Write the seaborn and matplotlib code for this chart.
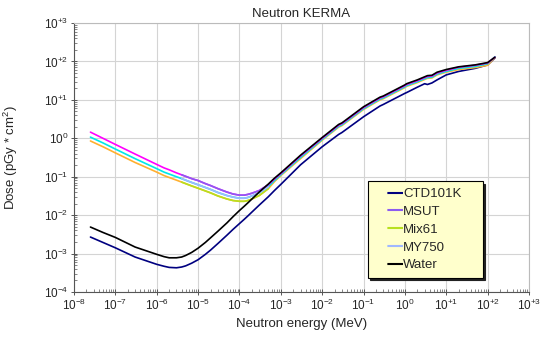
import numpy as np
import pandas as pd
import matplotlib
matplotlib.use('Agg')
import matplotlib.pyplot as plt
import matplotlib.ticker as mticker
from matplotlib.lines import Line2D
import seaborn as sns

energia = [2.5e-8, 5e-8, 1e-7, 3e-7, 1e-6, 1.5e-6, 2e-6, 3e-6, 4e-6, 5e-6, 7e-6, 1e-5,
           1.5e-5, 2e-5, 3e-5, 5e-5, 7e-5, 1e-4, 1.3e-4, 1.6e-4, 2e-4, 3e-4, 5e-4, 7e-4,
           1e-3, 3e-3, 1e-2, 2.5e-2, 3e-2, 1e-1, 2.5e-1, 3e-1,
           1.0, 1.1, 2.0, 3.0, 3.5, 4.5, 6.0, 10, 20, 50, 100, 150]

# Dose, stored as exponents (log10 of pGy*cm2)
exp_ctd101k = [-2.57, -2.71, -2.85, -3.09, -3.28, -3.33, -3.36, -3.37, -3.35, -3.32, -3.25, -3.16,
               -3.02, -2.91, -2.74, -2.52, -2.37, -2.22, -2.11, -2.02, -1.92, -1.74, -1.52, -1.36,
               -1.20, -0.69, -0.22, 0.10, 0.15, 0.56, 0.84, 0.88,
               1.17, 1.19, 1.33, 1.42, 1.40, 1.44, 1.52, 1.65, 1.74, 1.82, 1.91, 2.09]
exp_msut = [0.16, 0.00, -0.16, -0.41, -0.68, -0.77, -0.82, -0.90, -0.95, -0.99, -1.05, -1.10,
            -1.18, -1.23, -1.31, -1.40, -1.45, -1.48, -1.48, -1.46, -1.43, -1.36, -1.21, -1.06,
            -0.92, -0.46, 0.00, 0.34, 0.38, 0.80, 1.05, 1.08,
            1.37, 1.40, 1.50, 1.58, 1.61, 1.62, 1.70, 1.77, 1.85, 1.90, 1.96, 2.11]
exp_mix61 = [-0.07, -0.22, -0.38, -0.63, -0.88, -0.97, -1.02, -1.09, -1.14, -1.18, -1.24, -1.30,
             -1.37, -1.42, -1.50, -1.58, -1.62, -1.64, -1.64, -1.62, -1.58, -1.49, -1.31, -1.13,
             -0.97, -0.53, -0.05, 0.29, 0.33, 0.75, 1.00, 1.03,
             1.32, 1.35, 1.45, 1.53, 1.56, 1.57, 1.65, 1.72, 1.79, 1.84, 1.90, 2.10]
exp_my750 = [0.03, -0.12, -0.28, -0.53, -0.79, -0.88, -0.93, -1.00, -1.05, -1.09, -1.15, -1.21,
             -1.28, -1.33, -1.41, -1.49, -1.53, -1.56, -1.56, -1.54, -1.50, -1.42, -1.26, -1.10,
             -0.95, -0.50, -0.03, 0.31, 0.35, 0.77, 1.02, 1.05,
             1.34, 1.37, 1.47, 1.55, 1.58, 1.59, 1.67, 1.74, 1.82, 1.87, 1.94, 2.12]
exp_water = [-2.31, -2.45, -2.58, -2.83, -3.02, -3.08, -3.11, -3.11, -3.09, -3.05, -2.97, -2.86,
             -2.71, -2.59, -2.42, -2.20, -2.04, -1.88, -1.77, -1.68, -1.58, -1.40, -1.19, -1.04,
             -0.90, -0.44, 0.02, 0.36, 0.40, 0.82, 1.07, 1.10,
             1.39, 1.42, 1.52, 1.60, 1.63, 1.64, 1.72, 1.79, 1.86, 1.91, 1.97, 2.11]

materiais = ['CTD101K', 'MSUT', 'Mix61', 'MY750', 'Water']
expoentes = [exp_ctd101k, exp_msut, exp_mix61, exp_my750, exp_water]

# cores das curvas (trecho termico / rapido) e cores da legenda
cores_fortes = {'CTD101K': '#000080', 'MSUT': '#ff00ff', 'Mix61': '#ffb030',
                'MY750': '#00e8e8', 'Water': '#000000'}
cores_legenda = {'CTD101K': '#000080', 'MSUT': '#8c5cf0', 'Mix61': '#b8e01e',
                 'MY750': '#a0b8ff', 'Water': '#000000'}

linhas = []
for nome, ex in zip(materiais, expoentes):
    for e, v in zip(energia, ex):
        linhas.append({'Energia': e, 'Dose': 10.0 ** v, 'Material': nome})
df = pd.DataFrame(linhas)

sns.set_style('white')
plt.rcParams['font.family'] = ['Liberation Sans', 'DejaVu Sans']
plt.rcParams['lines.scale_dashes'] = False

fig = plt.figure(figsize=(5.5, 3.38), dpi=100)
ax = fig.add_axes([74 / 550, 46 / 338, 455 / 550, 269 / 338])

ordem = ['CTD101K', 'Mix61', 'MY750', 'MSUT', 'Water']
for nome in ordem:
    sub = df[df['Material'] == nome]
    sns.lineplot(data=sub, x='Energia', y='Dose', color=cores_fortes[nome], lw=1.2,
                 estimator=None, sort=False, ax=ax, legend=False)
    if nome in ('MSUT', 'Mix61', 'MY750'):
        meio = sub[(sub['Energia'] >= 4e-6) & (sub['Energia'] <= 5e-4)]
        sns.lineplot(data=meio, x='Energia', y='Dose', color=cores_legenda[nome], lw=1.2,
                     estimator=None, sort=False, ax=ax, legend=False)

ax.set_xscale('log')
ax.set_yscale('log')
ax.set_xlim(1e-8, 1e3)
ax.set_ylim(1e-4, 1e3)

def rotulo(v, pos):
    p = int(round(np.log10(v)))
    s = '+%d' % p if p > 0 else '%d' % p
    return r'10$^{\mathregular{%s}}$' % s

for eixo in (ax.xaxis, ax.yaxis):
    eixo.set_major_locator(mticker.LogLocator(base=10, numticks=30))
    eixo.set_minor_locator(mticker.LogLocator(base=10, subs=np.arange(2, 10), numticks=300))
    eixo.set_major_formatter(mticker.FuncFormatter(rotulo))
    eixo.set_minor_formatter(mticker.NullFormatter())

ax.tick_params(which='major', direction='inout', length=4, width=0.7, color='#555555',
               labelsize=8.5, pad=2, bottom=True, left=True)
ax.tick_params(which='minor', direction='in', length=2.5, width=0.5, color='#555555',
               bottom=True, left=True)
ax.grid(True, which='major', color='#d4d4d4', lw=0.8)
ax.set_axisbelow(True)
for lado in ('top', 'right'):
    ax.spines[lado].set_color('#bbbbbb')
for lado in ('left', 'bottom'):
    ax.spines[lado].set_color('#555555')
    ax.spines[lado].set_linewidth(0.8)

ax.set_title('Neutron KERMA', fontsize=9.5, pad=4)
ax.set_xlabel('Neutron energy (MeV)', fontsize=9.5)
ax.set_ylabel(r'Dose (pGy * cm$^{\mathregular{2}}$)', fontsize=9.5)
ax.xaxis.set_label_coords(0.5, -(318 - 292) / 269)
ax.yaxis.set_label_coords(-(74 - 20) / 455, 0.5)

# alca com um espaco vazio antes do traco (como no original)
alcas = [Line2D([], [], color=cores_legenda[m], lw=1.5, linestyle=(11.5, (11.5, 8.9)))
         for m in materiais]
leg = ax.legend(alcas, materiais, loc='lower left', bbox_to_anchor=(0.646, 0.052, 0.253, 0.37),
                mode='expand', fontsize=9.5, handlelength=2.15,
                handletextpad=0.02, labelspacing=0.42, borderpad=0.5, borderaxespad=0,
                fancybox=False, framealpha=1, facecolor='#ffffcc', edgecolor='black',
                shadow={'ox': 1.5, 'oy': -1.5, 'color': '#222222', 'alpha': 1})
leg.get_frame().set_linewidth(0.8)

fig.savefig('out.png', dpi=100)
